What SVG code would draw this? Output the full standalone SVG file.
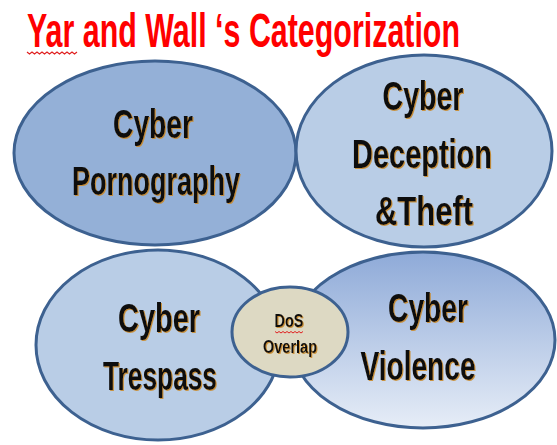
<svg xmlns="http://www.w3.org/2000/svg" width="557" height="445" viewBox="0 0 557 445">
  <style>
    .bubble { stroke: #3d6190; stroke-width: 3; }
    .label { font-family: "Liberation Sans Narrow", "Liberation Sans", Arial, sans-serif; font-weight: bold; fill: #111; filter: url(#glow); }
    .big { font-size: 40px; }
    .small { font-size: 18px; }
    .title { font-family: "Liberation Sans Narrow", "Liberation Sans", Arial, sans-serif; font-weight: bold; font-size: 36px; fill: #ff0000; }
  </style>
  <defs>
    <linearGradient id="violenceFill" x1="0" y1="0" x2="0" y2="1">
      <stop offset="0" stop-color="#8eaad8"/>
      <stop offset="1" stop-color="#e6edf7"/>
    </linearGradient>
    <filter id="glow" x="-10%" y="-10%" width="120%" height="130%">
      <feDropShadow dx="1" dy="1" stdDeviation="0.6" flood-color="#c98a2e" flood-opacity="0.9"/>
    </filter>
  </defs>

  <rect width="557" height="445" fill="#ffffff"/>

  <!-- heading, drawn tall and condensed -->
  <g transform="translate(27 47) scale(1 1.33)">
    <text class="title" x="0" y="0" textLength="433" lengthAdjust="spacingAndGlyphs">Yar and Wall ‘s Categorization</text>
  </g>
  <path d="M27 52 l2.5 2 l2.5 -2 l2.5 2 l2.5 -2 l2.5 2 l2.5 -2 l2.5 2 l2.5 -2 l2.5 2 l2.5 -2 l2.5 2 l2.5 -2 l2.5 2 l2.5 -2 l2.5 2 l2.5 -2 l2.5 2 l2.5 -2 l2.5 2 l2.5 -2" fill="none" stroke="#e02020" stroke-width="1.2"/>

  <g id="connectors"></g>

  <g id="pornography">
    <ellipse class="bubble" cx="155" cy="153" rx="141" ry="92" fill="#94b0d7"/>
    <text class="label big" x="153" y="138" text-anchor="middle" textLength="80" lengthAdjust="spacingAndGlyphs">Cyber</text>
    <text class="label big" x="156" y="195" text-anchor="middle" textLength="168" lengthAdjust="spacingAndGlyphs">Pornography</text>
  </g>

  <g id="deception">
    <ellipse class="bubble" cx="424" cy="151" rx="128" ry="96" fill="#b9cde6"/>
    <text class="label big" x="423" y="110" text-anchor="middle" textLength="81" lengthAdjust="spacingAndGlyphs">Cyber</text>
    <text class="label big" x="422" y="168" text-anchor="middle" textLength="140" lengthAdjust="spacingAndGlyphs">Deception</text>
    <text class="label big" x="424" y="225" text-anchor="middle" textLength="98" lengthAdjust="spacingAndGlyphs">&amp;Theft</text>
  </g>

  <g id="trespass">
    <ellipse class="bubble" cx="158" cy="345" rx="122" ry="95" fill="#b9cde6"/>
    <text class="label big" x="159" y="332" text-anchor="middle" textLength="82" lengthAdjust="spacingAndGlyphs">Cyber</text>
    <text class="label big" x="160" y="390" text-anchor="middle" textLength="114" lengthAdjust="spacingAndGlyphs">Trespass</text>
  </g>

  <g id="violence">
    <ellipse class="bubble" cx="423" cy="340" rx="132" ry="88" fill="url(#violenceFill)"/>
    <text class="label big" x="428" y="322" text-anchor="middle" textLength="80" lengthAdjust="spacingAndGlyphs">Cyber</text>
    <text class="label big" x="418" y="380" text-anchor="middle" textLength="115" lengthAdjust="spacingAndGlyphs">Violence</text>
  </g>

  <g id="dos-overlap">
    <ellipse class="bubble" cx="290" cy="332" rx="58" ry="45" fill="#ddd9c3"/>
    <text class="label small" x="289" y="327" text-anchor="middle" textLength="29" lengthAdjust="spacingAndGlyphs">DoS</text>
    <path d="M275 331.5 l2 1.5 l2 -1.5 l2 1.5 l2 -1.5 l2 1.5 l2 -1.5 l2 1.5 l2 -1.5 l2 1.5 l2 -1.5 l2 1.5 l2 -1.5 l2 1.5 l2 -1.5" fill="none" stroke="#e02020" stroke-width="1"/>
    <text class="label small" x="290" y="353" text-anchor="middle" textLength="54" lengthAdjust="spacingAndGlyphs">Overlap</text>
  </g>
</svg>
